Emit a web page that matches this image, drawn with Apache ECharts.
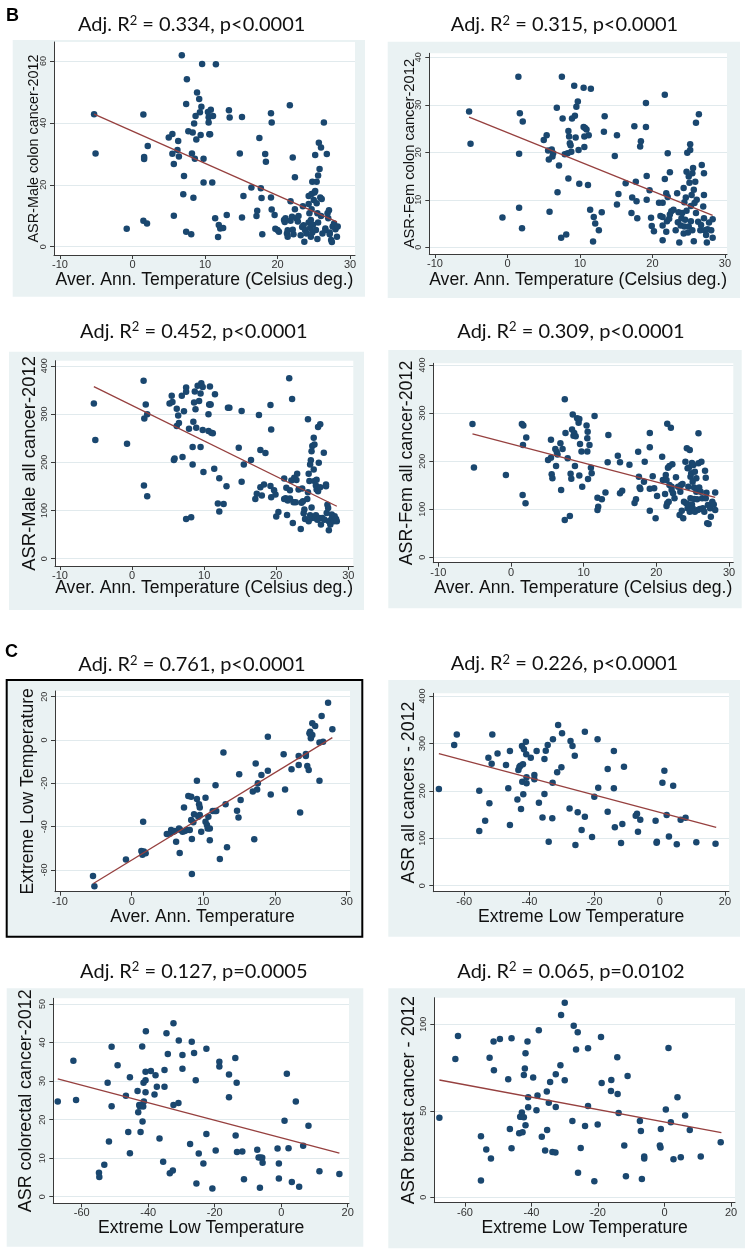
<!DOCTYPE html>
<html>
<head>
<meta charset="utf-8">
<script src="https://cdn.jsdelivr.net/npm/echarts/dist/echarts.min.js"></script>
<style>html,body{margin:0;padding:0;background:#fff;}#c{width:750px;height:1255px;}</style>
</head>
<body>
<div id="c"></div>
<script>
// ---------- DATA ----------
const titleStats = [
  ["0.334", "p<0.0001"], ["0.315", "p<0.0001"],
  ["0.452", "p<0.0001"], ["0.309", "p<0.0001"],
  ["0.761", "p<0.0001"], ["0.226", "p<0.0001"],
  ["0.127", "p=0.0005"], ["0.065", "p=0.0102"]
];
const xNames = [
  "Aver. Ann. Temperature (Celsius deg.)", "Aver. Ann. Temperature (Celsius deg.)",
  "Aver. Ann. Temperature (Celsius deg.)", "Aver. Ann. Temperature (Celsius deg.)",
  "Aver. Ann. Temperature", "Extreme Low Temperature",
  "Extreme Low Temperature", "Extreme Low Temperature"
];
const yNames = [
  "ASR-Male colon cancer-2012", "ASR-Fem colon cancer-2012",
  "ASR-Male all cancer-2012", "ASR-Fem all cancer-2012",
  "Extreme Low Temperature", "ASR all cancers - 2012",
  "ASR colorectal cancer-2012", "ASR breast cancer - 2012"
];
const panelLetters = ["B", "C"];

const tempTicks = [-10, 0, 10, 20, 30];
const lowTicks = [-60, -40, -20, 0, 20];
const maleColonTicks = [0, 20, 40, 60];
const femColonTicks = [0, 10, 20, 30, 40];
const allCancerTicks = [0, 100, 200, 300, 400];
const lowTempYTicks = [-60, -40, -20, 0, 20];
const colorectalTicks = [0, 10, 20, 30, 40, 50];
const breastTicks = [0, 50, 100];

const maleColonPts = [[-5.3,42.8],[-5.1,30.1],[-0.8,5.8],[1.5,42.7],[1.6,29],[1.6,28.3],[1.5,8.4],[2.0,7.5],[2.1,32.5],[5.0,35.3],[5.5,36.4],[5.5,30],[5.7,26.7],[5.7,10],[6.2,31.2],[6.3,34.1],[6.4,29.1],[6.8,61.8],[7.0,16.9],[7.1,22.8],[7.4,4.8],[7.4,46.1],[7.5,54.1],[7.7,37.3],[8.1,4],[8.2,30.1],[8.3,36.9],[8.4,15.8],[8.5,39.8],[8.6,28.4],[8.7,42.2],[8.8,34.6],[8.9,49.8],[9.2,47.7],[9.3,43.4],[9.4,36.1],[9.5,45.2],[9.6,59],[9.8,28.4],[9.8,20.7],[10.4,43.5],[10.5,41.8],[10.5,40.1],[10.6,36.3],[10.7,36.3],[10.8,44.2],[11.0,20.7],[11.1,42.2],[11.5,58.9],[11.4,9.2],[11.8,3.1],[11.9,7],[12.1,5.9],[12.5,6],[13.0,10.2],[13.3,44.1],[13.4,41.7],[14.8,30.1],[15.1,41.9],[15.1,9.4],[15.3,16.4],[16.4,19.1],[17.1,9.9],[17.2,11.6],[17.5,35.1],[17.7,18.9],[17.8,15.7],[17.9,4],[18.3,29.9],[18.4,27.4],[19.1,43.1],[19.2,40.1],[19.1,15.9],[19.2,12],[19.6,10.2],[19.7,5.8],[20.0,5.4],[20.2,4.8],[20.9,8.6],[21.0,8],[21.1,9.2],[21.3,4.3],[21.4,5.3],[21.4,3.2],[21.7,45.7],[21.8,14.7],[21.8,8.4],[22.0,9.7],[22.1,28.8],[22.1,5.5],[22.2,4],[22.4,22.4],[22.4,12.1],[22.6,9.2],[22.8,8.1],[22.9,9.9],[23.2,3.7],[23.4,6.4],[23.5,13.1],[23.6,6.9],[23.7,1.6],[23.8,5.4],[24.0,4.3],[24.3,7.8],[24.3,13.8],[24.3,16.4],[24.4,10.8],[24.5,6],[24.6,3.2],[24.6,8.6],[24.7,12.1],[24.7,17],[24.8,21],[24.8,4.6],[24.9,7.1],[25.0,15.1],[25.1,17.5],[25.2,29.6],[25.2,18],[25.3,5.4],[25.4,21],[25.4,14],[25.5,10.8],[25.5,2.5],[25.6,23],[25.6,7.8],[25.7,33.6],[25.8,25.1],[25.9,15.9],[26.0,32],[26.0,9.9],[26.1,15.4],[26.2,4.3],[26.4,40.1],[26.6,5.9],[26.6,5.4],[26.8,29.9],[26.9,10.8],[27.0,9.2],[27.1,11.8],[27.2,4.6],[27.4,2.2],[27.5,1.5],[27.6,6.5],[27.8,7.5],[28.0,5.6],[28.2,3.2],[28.3,6.5],[27.2,4]];
const maleColonFit = [[-5.3,42.8],[28.2,8.0]];

const femColonPts = [[-5.3,28.6],[-5.1,21.8],[-0.7,6.3],[1.5,35.9],[1.7,28.2],[1.6,19.7],[1.6,8.3],[2.0,4],[2.1,26.5],[5.0,22.6],[5.4,23.6],[5.6,20.4],[5.7,18.5],[5.8,7.5],[6.1,20.6],[6.2,19.1],[6.3,19.8],[6.8,29.4],[7.1,17.2],[6.9,11.6],[7.4,2],[7.5,35.9],[7.6,27.1],[7.9,19.6],[8.1,2.7],[8.3,19.8],[8.4,24.5],[8.5,23.3],[8.6,21.9],[8.7,21.5],[8.4,14.5],[8.8,20.1],[8.9,27.1],[9.2,34],[9.3,27.7],[9.4,23.1],[9.5,29.6],[9.7,30.7],[9.8,20.5],[9.9,13.4],[10.5,33.6],[10.5,25.3],[10.6,21.1],[10.6,23.3],[10.7,25.1],[10.9,24.8],[11.1,13.1],[11.2,23.6],[11.4,7.9],[11.5,33.4],[11.8,1.2],[11.9,6.4],[12.1,5],[12.6,3.6],[13.0,7.4],[13.3,24.3],[13.4,27.6],[14.8,19.2],[15.1,23.6],[15.1,9],[15.3,11.2],[16.3,13.5],[17.1,7.2],[17.2,10.5],[17.5,25.5],[17.7,13.8],[17.8,9.7],[17.9,6.1],[18.3,21.2],[18.4,22.3],[19.1,30.4],[19.1,25.3],[19.2,15],[19.2,10],[19.6,12],[19.8,6.2],[19.9,4.5],[20.2,3.4],[20.9,9.4],[21.1,6.6],[21.4,6.4],[21.4,4.6],[21.4,9.4],[21.4,1.5],[21.7,32.1],[21.7,14.4],[21.9,11.4],[21.9,3.3],[22.0,5.5],[22.1,19.8],[22.1,10.6],[22.3,6],[22.4,15.8],[22.4,6.9],[22.6,7.6],[22.9,7.9],[23.2,3.6],[23.4,11.4],[23.5,5.3],[23.6,7.4],[23.7,1],[23.9,4.6],[24.0,6.1],[24.1,7.2],[24.3,2.9],[24.3,12.5],[24.4,9.5],[24.4,4.4],[24.5,5.8],[24.6,10.5],[24.7,7.7],[24.7,15.9],[24.8,19.9],[24.9,3.1],[25.0,14.9],[25.0,4.4],[25.1,13.6],[25.2,21.7],[25.2,20.5],[25.3,8.7],[25.3,5.5],[25.4,11],[25.5,15.6],[25.5,3.6],[25.6,16.7],[25.7,1.3],[25.7,12.1],[25.8,9.3],[25.9,13.8],[26.0,26.2],[26.0,7.2],[26.1,10],[26.3,5.4],[26.4,28],[26.6,3.6],[26.7,4.7],[26.8,17.3],[27.0,8.6],[27.1,15.6],[27.1,11],[27.1,6.1],[27.2,3.6],[27.4,2.6],[27.5,1],[27.6,3.8],[27.8,5.2],[28.1,3.6],[28.3,2],[28.3,5.9]];
const femColonFit = [[-5.3,27.4],[28.3,6.7]];

const maleAllPts = [[-5.3,321.7],[-5.1,246],[-0.7,238.5],[1.6,368.8],[1.7,290.5],[1.9,320],[2.1,299.5],[1.65,151.8],[2.1,129.6],[5.2,321.7],[5.5,338],[5.6,325],[5.8,204.5],[5.9,208],[6.2,311],[6.2,275],[6.4,297],[6.5,281.5],[6.9,338],[7.0,211],[7.2,306],[7.5,355],[7.5,346],[7.5,82.5],[7.9,269.7],[8.2,86],[8.4,231.5],[8.4,195.5],[8.5,284],[8.6,323.7],[8.7,346.6],[8.8,310],[8.9,271.7],[9.1,358.4],[9.3,327],[9.5,342.5],[9.5,231.5],[9.6,364],[9.8,356],[9.8,267],[9.9,180],[10.6,299.5],[10.6,264.8],[10.7,320],[10.8,357],[10.8,320],[10.9,320],[11.0,261],[11.2,260],[11.4,186.5],[11.5,341],[11.9,114.4],[12.1,167],[12.1,97.7],[12.7,113.7],[13.1,150.4],[13.3,313],[13.5,313],[14.8,230],[15.2,159.4],[15.2,306.4],[15.5,195.5],[16.5,204.5],[17.1,124],[17.3,134.5],[17.6,298],[17.8,225.3],[17.8,148.4],[18.0,131],[18.3,154],[18.5,219],[19.2,319],[19.3,268],[19.2,151],[19.3,127.6],[19.7,142],[19.9,133],[20.0,87.3],[20.3,97],[21.1,166.4],[21.1,124],[21.3,125.5],[21.4,147],[21.5,90.8],[21.6,120.6],[21.8,374],[21.9,142],[21.9,125],[22.1,162],[22.2,331],[22.3,74],[22.4,117],[22.5,168],[22.7,117],[22.8,163],[22.9,176],[23.1,143.5],[23.4,61.7],[23.5,115.8],[23.7,119],[23.6,145.6],[23.8,94.3],[23.9,102],[24.0,82.5],[24.3,124],[24.4,289],[24.5,176],[24.4,138],[24.5,77.6],[24.6,161],[24.7,195.5],[24.7,90],[24.8,204],[24.9,223],[24.9,106],[25.0,84.6],[25.0,233.6],[25.2,251],[25.2,185],[25.3,237],[25.3,161],[25.4,84.6],[25.5,152],[25.5,90],[25.6,143.5],[25.6,164],[25.7,81],[25.8,273],[25.8,140],[25.9,199],[26.0,84.6],[26.1,278.7],[26.1,148.4],[26.2,70.7],[26.4,84.6],[26.6,219.8],[26.7,81],[26.9,150.4],[26.9,154],[27.0,95],[27.1,112],[27.2,105],[27.3,77.6],[27.3,59],[27.5,70.7],[27.6,81],[27.7,91.5],[27.8,84.6],[28.0,77.6],[28.1,88],[28.3,82.5],[28.4,77.6]];
const maleAllFit = [[-5.3,357],[28.4,108.8]];

const femAllPts = [[-5.3,277],[-5.1,187],[-0.7,171],[1.5,277],[1.7,274],[1.6,129.6],[1.65,233.6],[2.1,249],[2.0,112.3],[5.1,202.4],[5.5,244.7],[5.5,207.3],[5.6,172.6],[5.7,164.3],[6.1,225.3],[6.2,190],[6.3,219],[6.4,214],[6.8,237],[6.9,140],[7.1,225.3],[7.4,328.6],[7.5,258.6],[7.4,77.6],[7.8,206],[8.1,86],[8.2,174],[8.3,163.6],[8.4,266],[8.5,297],[8.6,253],[8.7,258.6],[8.8,190],[8.9,252],[9.1,289],[9.3,280],[9.4,287.7],[9.4,170],[9.5,235.7],[9.7,220],[9.8,147],[10.4,274],[10.5,247.5],[10.55,261.3],[10.5,220],[10.8,233.6],[10.6,163],[11.0,186.5],[11.1,174.7],[11.5,294],[11.9,124],[12.0,105.4],[11.9,98.4],[12.5,120.6],[13.0,135],[13.3,197.6],[13.4,254.4],[14.7,211.4],[15.0,197.6],[15.0,133],[15.3,138.6],[16.3,192.7],[17.0,113],[17.2,120.6],[17.5,219.8],[17.6,167.8],[17.7,145],[17.8,142],[18.4,199],[18.3,157.4],[19.1,258.6],[19.1,228.8],[19.1,142.8],[19.1,97],[19.5,168.5],[19.7,143.5],[19.9,81],[20.1,127.6],[20.8,209.4],[20.9,160.8],[21.2,131.7],[21.3,171],[21.4,160.8],[21.4,106.8],[21.5,112.3],[21.5,278],[21.6,186.5],[21.7,115.8],[21.8,150.4],[21.8,190],[22.0,269.7],[22.1,147],[22.1,140],[22.2,193.4],[22.3,133],[22.5,122.7],[22.7,166.4],[23.0,147],[23.2,88],[23.3,136.6],[23.4,150.4],[23.5,97],[23.6,152.5],[23.7,81],[23.8,115.8],[24.0,199],[24.1,112.3],[24.2,226.7],[24.3,185],[24.3,102],[24.4,147],[24.4,110],[24.5,187],[24.6,223],[24.6,95],[24.7,167.8],[24.7,122.7],[24.8,174.7],[24.9,110],[24.9,196],[25.0,157.4],[25.0,102],[25.1,192],[25.2,145],[25.2,121.3],[25.3,178],[25.3,95],[25.5,164.3],[25.5,136.6],[25.6,120.6],[25.7,98.4],[25.8,258],[25.8,195.5],[25.9,145],[26.0,100.5],[26.1,136.6],[26.2,199],[26.3,122.7],[26.4,102],[26.6,95],[26.7,180],[26.8,122.7],[26.8,165.7],[26.9,134.5],[27.0,70.7],[27.1,108.8],[27.2,69.3],[27.4,102],[27.5,84.6],[27.7,115.8],[27.9,110],[28.1,135],[28.1,98.4]];
const femAllFit = [[-5.3,256.5],[28.1,124.8]];

const lowVsTempPts = [[-5.4,-62.8],[-5.2,-67.5],[-0.8,-55.1],[1.35,-51.2],[1.5,-53],[1.6,-37.7],[1.7,-51.5],[1.95,-52.3],[4.9,-43.4],[5.35,-43.1],[5.5,-41.5],[5.8,-42.3],[6.0,-42],[6.2,-46.9],[6.6,-40.8],[6.7,-52.2],[6.8,-41.5],[7.1,-42.3],[7.3,-31.1],[7.4,-42],[7.7,-41.5],[9.1,-18.8],[7.9,-25.8],[8.3,-26.2],[8.1,-41.5],[8.3,-36.9],[8.4,-45.7],[8.4,-61.8],[8.7,-34.3],[8.6,-38],[9.1,-27.2],[9.4,-29.7],[9.5,-31.2],[9.3,-35.4],[9.5,-34.6],[9.7,-42.3],[10.3,-26.6],[10.3,-37.7],[10.5,-39.2],[10.6,-40.8],[10.7,-35.4],[10.9,-46.3],[10.9,-40.8],[11.3,-32.8],[11.7,-20.9],[11.6,-32.8],[11.8,-32.8],[12.3,-54.9],[12.8,-5.8],[13.1,-29.7],[13.3,-49.5],[14.7,-32.6],[14.9,-35.8],[15.0,-15.8],[15.2,-27.7],[16.9,-23.8],[17.1,-45.8],[17.3,-10.8],[17.5,-22.8],[17.6,-20],[18.1,-16.2],[19.0,1.5],[19.0,-14.2],[19.4,-25.1],[21.2,-6.6],[21.4,-22.8],[22.3,-13.5],[23.3,-7.4],[23.3,-11.5],[23.5,-33.5],[24.3,-6.5],[24.3,-7.4],[24.5,-12],[24.7,-13.8],[24.8,3.1],[24.9,3.8],[25.0,2],[25.0,0.8],[25.2,7.7],[25.2,2.3],[25.6,6.5],[26.2,-1.2],[26.2,-18.8],[26.5,11.1],[26.7,-0.8],[27.4,17.2],[28.0,4.9]];
const lowVsTempFit = [[-5.35,-66.2],[28.0,1.1]];

const allCancersPts = [[-67.8,203.9],[-63.1,296.7],[-62.3,319],[-55.4,115.3],[-55.4,200.4],[-53.6,137],[-52.6,270],[-52.3,173.6],[-51.6,257.3],[-51.4,319],[-49.8,279],[-47.2,254.5],[-46.5,205.3],[-46.0,284],[-46.0,128],[-43.7,182],[-43.4,244],[-43.1,250.3],[-42.8,253],[-42.6,161.7],[-42.3,294.6],[-42.2,219.3],[-42.0,256],[-41.9,192.6],[-41.7,287.5],[-41.1,303.7],[-41.0,277],[-40.9,228.5],[-40.9,216],[-39.6,270],[-38.5,233.4],[-38.5,224.3],[-37.8,284],[-37.1,175],[-36.0,144],[-35.4,267],[-35.4,193.3],[-35.0,284.7],[-34.4,296.7],[-34.1,92.8],[-33.0,142],[-32.9,217.2],[-32.8,308.6],[-31.5,239],[-31.2,338.8],[-30.2,249.6],[-30.0,321.3],[-27.7,163],[-27.4,305],[-26.8,294.6],[-26.1,274],[-25.9,85.8],[-25.2,154.7],[-24.0,117.4],[-23.0,324.8],[-23.0,145.5],[-20.8,102.6],[-20.1,187.7],[-19.1,308.6],[-18.9,206.7],[-16.0,156],[-16.0,246],[-14.1,284],[-14.1,205.3],[-13.8,123],[-11.9,90],[-11.5,130],[-11.0,251],[-7.4,147.6],[-7.0,151.8],[-6.7,114],[-6.0,139],[-1.3,137],[-1.0,90.7],[-0.9,92.8],[0.8,217.2],[1.4,242.5],[2.1,149],[2.8,104],[4.1,211],[5.2,87.2],[6.4,139],[7.9,143.4],[11.2,91.4],[17.1,88.6]];
const allCancersFit = [[-67.8,278.4],[17.3,123]];

const colorectalPts = [[-67.2,24.7],[-62.5,35.3],[-61.7,25.1],[-54.8,6.2],[-54.7,5.1],[-53.2,8.3],[-52.2,29.6],[-51.8,14.3],[-51.0,38.9],[-51.0,23.5],[-49.2,34.1],[-46.7,26.2],[-46.0,16.8],[-45.5,31],[-45.5,11.3],[-43.2,27.4],[-43.0,21.9],[-42.7,23.8],[-42.5,23.4],[-42.3,16.8],[-42.2,23.8],[-41.8,39],[-41.7,19.5],[-41.5,23.4],[-41.4,29.6],[-41.3,24.7],[-40.8,30.2],[-40.8,32.4],[-40.8,27.1],[-40.7,42.9],[-39.2,32.6],[-38.1,26.5],[-37.8,31.5],[-37.4,28.5],[-36.6,15.1],[-35.5,9.1],[-35.1,32.9],[-35.1,28.5],[-34.5,42.4],[-34.1,37],[-33.5,6.1],[-32.6,6.8],[-32.4,45],[-32.4,23.8],[-30.9,24.3],[-30.8,40.5],[-29.7,36.8],[-29.7,33.2],[-27.4,13.7],[-26.9,40.2],[-26.2,37.3],[-25.7,30.2],[-25.5,3.4],[-24.8,11.2],[-23.4,8.6],[-22.5,38.4],[-22.5,16.3],[-20.7,2.1],[-19.7,12],[-18.6,35],[-18.6,33.8],[-15.7,31.7],[-15.7,25.8],[-13.8,36],[-13.7,15.9],[-13.3,11.6],[-13.4,29.6],[-11.7,11.7],[-11.2,4.5],[-7.2,12.2],[-6.8,10.2],[-6.4,2.3],[-6.2,10.2],[-5.7,10.1],[-5.6,8.8],[-1.1,12.5],[-0.7,8.6],[-0.7,4.7],[1.0,19.7],[1.7,31.9],[2.2,12.6],[3.2,3.8],[4.4,24.7],[5.4,2.6],[6.6,13.2],[8.2,18.4],[11.5,6.6],[17.5,5.9]];
const colorectalFit = [[-67.2,30.6],[17.5,11.3]];

const breastPts = [[-67.7,45.9],[-62.9,80],[-62.1,93.3],[-55.2,35.3],[-55.2,9.6],[-53.6,27.6],[-52.6,80.7],[-52.2,22.4],[-51.4,90],[-51.3,73.4],[-49.5,91.5],[-47.0,68.2],[-46.5,39.5],[-46.0,91.9],[-46.0,28.3],[-43.7,37],[-43.4,46.6],[-43.2,46.6],[-42.9,49],[-42.7,37.6],[-42.3,70.7],[-42.3,46.2],[-42.0,74.4],[-41.8,83.2],[-41.8,41.6],[-41.2,90],[-41.0,57.8],[-41.0,52],[-39.5,69.2],[-38.5,50.3],[-38.2,58.8],[-37.8,96.5],[-36.9,35],[-35.9,27],[-35.4,61.1],[-35.3,38.9],[-34.8,54.7],[-34.4,66.7],[-33.7,26.2],[-32.8,25.8],[-32.7,71.1],[-32.7,52.2],[-31.3,76.3],[-31.1,105.4],[-30.0,112.5],[-30.0,67.6],[-27.7,44.1],[-27.3,99.2],[-26.6,85.4],[-26.1,95.4],[-26.0,14.1],[-25.2,28.5],[-23.9,41.2],[-23.0,86.1],[-23.0,52.8],[-21.1,9.2],[-20.1,42],[-19.1,92.7],[-18.9,66.1],[-16.1,61.5],[-16.0,67.8],[-14.2,80.9],[-14.1,59.7],[-13.8,48.7],[-12.1,29.9],[-11.6,12.1],[-11.1,70.1],[-7.4,44.1],[-7.1,38.3],[-6.8,10.6],[-6.1,23.5],[-6.1,22.4],[-1.4,29.9],[-1.2,28.7],[-1.1,39.5],[0.4,50.7],[1.2,86.3],[1.9,43.4],[2.7,22],[3.9,57.8],[4.9,23.1],[6.2,47.2],[7.6,38.9],[10.9,23.5],[16.9,31.8]];
const breastFit = [[-67.7,67.8],[17.1,37.4]];

// ---------- LAYOUT / STYLE ----------
const SANS = "'Liberation Sans', Arial, sans-serif";
const PANEL_BG = '#eaf2f3';
const NAVY = '#1a476f';
const FITC = '#96403f';

const panels = [
  {pts: maleColonPts, fit: maleColonFit, xT: tempTicks, yT: maleColonTicks, xr: [-10.83, 30.69], yr: [-2.68, 66.1],
   grid: [54, 42, 301, 213], bg: [12.7, 40, 352.3, 256.7], tp: [191.7, 25], yFs: 14.4, yGap: 12.8, xGap: 16.2},
  {pts: femColonPts, fit: femColonFit, xT: tempTicks, yT: femColonTicks, xr: [-10.79, 30.28], yr: [-1.41, 40.84],
   grid: [429.3, 53.3, 297.7, 200.7], bg: [387.7, 41.7, 352.3, 256.3], tp: [564.5, 25], yFs: 14.7, yGap: 11.7, xGap: 17.2},
  {pts: maleAllPts, fit: maleAllFit, xT: tempTicks, yT: allCancerTicks, xr: [-10.69, 30.69], yr: [-15.1, 410.6],
   grid: [55, 360.7, 298.3, 205.3], bg: [9, 351.7, 355, 258.3], tp: [193.8, 331.7], yFs: 18.4, yGap: 15.8, xGap: 12.9},
  {pts: femAllPts, fit: femAllFit, xT: tempTicks, yT: allCancerTicks, xr: [-10.69, 30.59], yr: [-11.2, 403.5],
   grid: [433.3, 363.3, 300, 199.4], bg: [388.3, 350, 353.4, 258.3], tp: [571, 331.7], yFs: 17.8, yGap: 17.4, xGap: 16.5},
  {pts: lowVsTempPts, fit: lowVsTempFit, xT: tempTicks, yT: lowTempYTicks, xr: [-10.7, 30.46], yr: [-70.0, 22.6],
   grid: [55, 691, 295, 200.7], bg: [6.7, 680, 355.6, 256.7], tp: [192, 665], yFs: 17.6, yGap: 18.2, xGap: 16, border: true},
  {pts: allCancersPts, fit: allCancersFit, xT: lowTicks, yT: allCancerTicks, xr: [-69.51, 21.23], yr: [-12.65, 405.7],
   grid: [433.3, 693.3, 295.7, 198.4], bg: [388.3, 680, 351.7, 256.7], tp: [564.5, 664], yFs: 17.8, yGap: 15.4, xGap: 16},
  {pts: colorectalPts, fit: colorectalFit, xT: lowTicks, yT: colorectalTicks, xr: [-68.54, 20.39], yr: [-1.71, 51.48],
   grid: [53.3, 998.3, 295.7, 205], bg: [6.7, 988.3, 356.6, 258.4], tp: [193.8, 971.7], yFs: 17.9, yGap: 18.3, xGap: 15.4},
  {pts: breastPts, fit: breastFit, xT: lowTicks, yT: breastTicks, xr: [-69.23, 21.2], yr: [-3.18, 115.4],
   grid: [434.3, 997.7, 300.7, 205], bg: [388.3, 988.3, 356.7, 260], tp: [571, 971.7], yFs: 18.1, yGap: 16.3, xGap: 16.8}
];

const axisLineStyle = {color: '#3a3a3a', width: 1};
const titleRich = {
  a: {fontFamily: 'Lato', fontSize: 20, lineHeight: 22, fill: '#111', color: '#111'},
  s: {fontFamily: 'Lato', fontSize: 13, lineHeight: 13, verticalAlign: 'top', fill: '#111', color: '#111'}
};
const option = {
  animation: false,
  grid: panels.map(p => ({left: p.grid[0], top: p.grid[1], width: p.grid[2], height: p.grid[3],
    show: true, backgroundColor: '#ffffff', borderWidth: 0, containLabel: false})),
  xAxis: panels.map((p, i) => ({
    type: 'value', gridIndex: i, min: p.xr[0], max: p.xr[1],
    name: xNames[i], nameLocation: 'middle', nameGap: p.xGap, nameMoveOverlap: false,
    nameTextStyle: {fontFamily: SANS, fontSize: 17.6, color: '#111'},
    axisLine: {show: true, onZero: false, lineStyle: axisLineStyle},
    axisTick: {show: true, length: 4, customValues: p.xT, lineStyle: axisLineStyle},
    axisLabel: {show: true, customValues: p.xT, margin: 4.5, fontFamily: SANS, fontSize: 11, color: '#333'},
    splitLine: {show: false}
  })),
  yAxis: panels.map((p, i) => ({
    type: 'value', gridIndex: i, min: p.yr[0], max: p.yr[1],
    name: yNames[i], nameLocation: 'middle', nameGap: p.yGap, nameMoveOverlap: false,
    nameTextStyle: {fontFamily: SANS, fontSize: p.yFs, color: '#111'},
    axisLine: {show: true, onZero: false, lineStyle: axisLineStyle},
    axisTick: {show: true, length: 4, customValues: p.yT, lineStyle: axisLineStyle},
    axisLabel: {show: true, customValues: p.yT, rotate: 90, margin: 6, fontFamily: SANS, fontSize: 9, color: '#333'},
    splitLine: {show: true, lineStyle: {color: '#e1eaed', width: 1}}
  })),
  series: [].concat(
    panels.map((p, i) => ({type: 'scatter', xAxisIndex: i, yAxisIndex: i, data: p.pts,
      symbol: 'circle', symbolSize: 6.5, itemStyle: {color: NAVY, opacity: 1}, clip: false, silent: true})),
    panels.map((p, i) => ({type: 'line', xAxisIndex: i, yAxisIndex: i, data: p.fit,
      showSymbol: false, symbol: 'none', lineStyle: {color: FITC, width: 1.3}, silent: true, z: 3}))
  ),
  graphic: [].concat(
    panels.map(p => ({type: 'rect', z: -10, silent: true,
      shape: {x: p.bg[0], y: p.bg[1], width: p.bg[2], height: p.bg[3]},
      style: {fill: PANEL_BG}})),
    panels.filter(p => p.border).map(p => ({type: 'rect', z: 50, silent: true,
      shape: {x: p.bg[0], y: p.bg[1], width: p.bg[2], height: p.bg[3]},
      style: {fill: 'none', stroke: '#000', lineWidth: 2}})),
    panels.map((p, i) => ({type: 'text', z: 50, silent: true, x: p.tp[0], y: p.tp[1],
      style: {text: '{a|Adj. R}{s|2}{a| = ' + titleStats[i][0] + ', ' + titleStats[i][1] + '}',
        rich: titleRich, fontFamily: 'Lato', fontSize: 20, fill: '#111',
        textAlign: 'center', textVerticalAlign: 'middle'}})),
    [{type: 'text', z: 50, x: 6, y: 16.5, style: {text: panelLetters[0], fontFamily: SANS, fontWeight: 'bold', fontSize: 18, fill: '#000', textAlign: 'left', textVerticalAlign: 'middle'}},
     {type: 'text', z: 50, x: 5, y: 652, style: {text: panelLetters[1], fontFamily: SANS, fontWeight: 'bold', fontSize: 18, fill: '#000', textAlign: 'left', textVerticalAlign: 'middle'}}]
  )
};

const chart = echarts.init(document.getElementById('c'), null, {renderer: 'canvas', width: 750, height: 1255});
chart.setOption(option);
</script>
</body>
</html>
